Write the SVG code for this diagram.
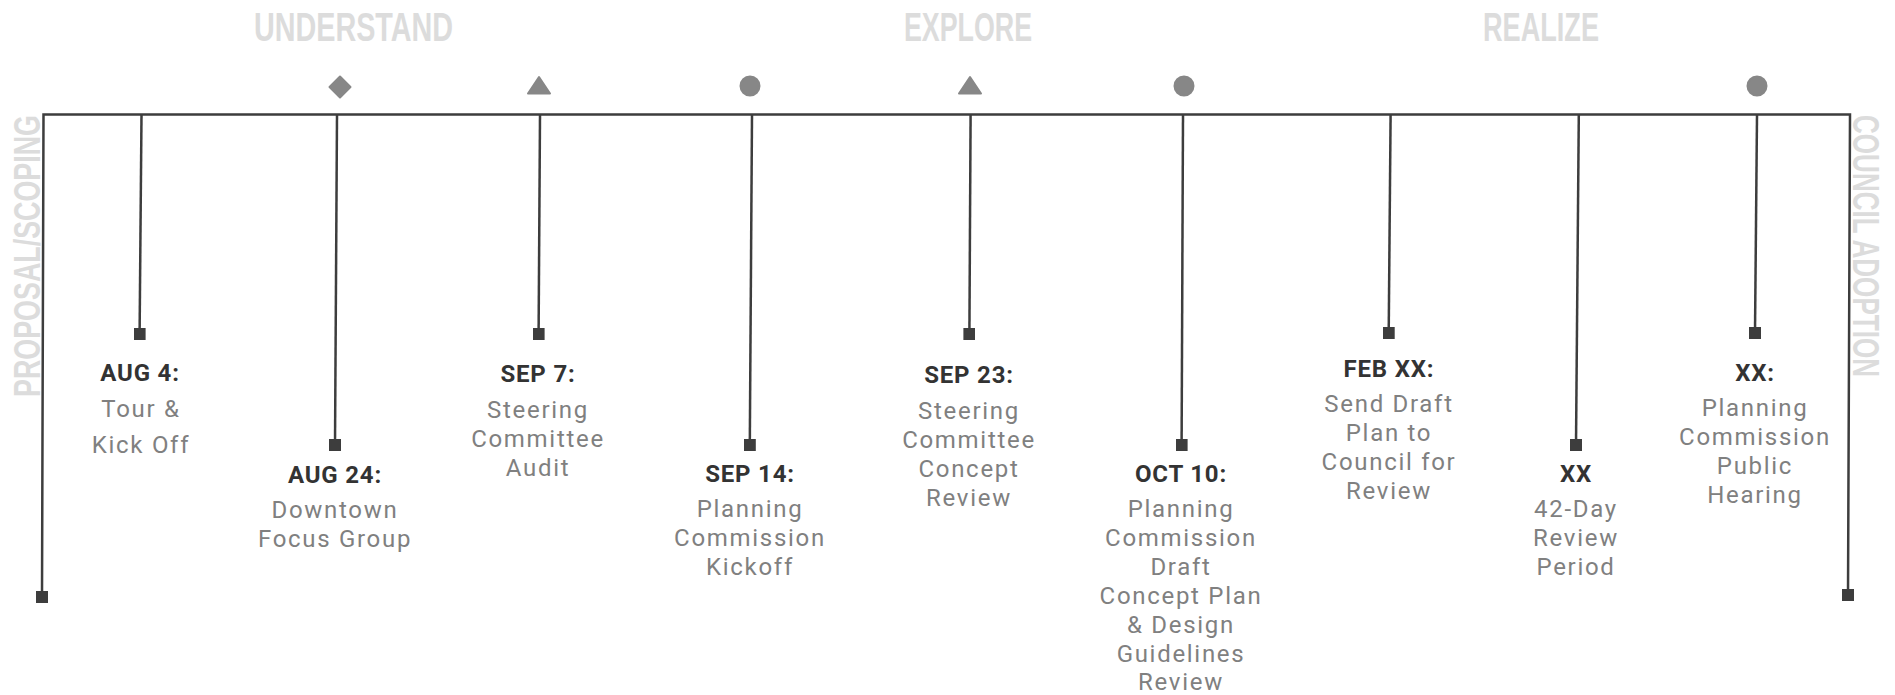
<svg xmlns="http://www.w3.org/2000/svg" width="1895" height="695" viewBox="0 0 1895 695">
<style>
.phase{font-family:"Liberation Sans",Arial,sans-serif;font-weight:bold;font-size:40px;fill:#dcdcdc}
.side{font-family:"Liberation Sans",Arial,sans-serif;font-weight:bold;font-size:37px;fill:#dcdcdc}
.date{font-family:Roboto,"Liberation Sans",sans-serif;font-weight:bold;font-size:24px;fill:#333333;text-anchor:middle;letter-spacing:0.8px}
.desc{font-family:Roboto,"Liberation Sans",sans-serif;font-size:24px;fill:#808080;text-anchor:middle;letter-spacing:1.7px}
.mk{fill:#878787;stroke:#878787;stroke-width:2;stroke-linejoin:round}
.ln{fill:none;stroke:#3d3d3d;stroke-width:2.5}
</style>
<defs>
<marker id="sq" markerUnits="userSpaceOnUse" markerWidth="12" markerHeight="12" refX="5.5" refY="5.5" viewBox="0 0 11 11">
<rect x="0" y="0" width="11" height="11" fill="#3d3d3d"/>
</marker>
</defs>

<g id="phases">
<text class="phase" x="254" y="41" textLength="199" lengthAdjust="spacingAndGlyphs">UNDERSTAND</text>
<text class="phase" x="904" y="41" textLength="128" lengthAdjust="spacingAndGlyphs">EXPLORE</text>
<text class="phase" x="1483" y="41" textLength="116" lengthAdjust="spacingAndGlyphs">REALIZE</text>
<text class="side" x="40" y="397" transform="rotate(-90 40 397)" textLength="282" lengthAdjust="spacingAndGlyphs">PROPOSAL/SCOPING</text>
<text class="side" x="1853" y="115" transform="rotate(90 1853 115)" textLength="262" lengthAdjust="spacingAndGlyphs">COUNCIL ADOPTION</text>
</g>

<g id="connectors">
<path class="ln" d="M42,597 L43.5,114.5 L1850,114.5 L1848,595" marker-start="url(#sq)" marker-end="url(#sq)"/>
<path class="ln" d="M141.5,115 L139.6,334" marker-end="url(#sq)"/>
<path class="ln" d="M337,115 L335,445" marker-end="url(#sq)"/>
<path class="ln" d="M540,115 L538.6,334" marker-end="url(#sq)"/>
<path class="ln" d="M752,115 L749.8,445" marker-end="url(#sq)"/>
<path class="ln" d="M970.6,115 L969.4,334" marker-end="url(#sq)"/>
<path class="ln" d="M1183,115 L1181.6,445" marker-end="url(#sq)"/>
<path class="ln" d="M1390.6,115 L1388.7,333" marker-end="url(#sq)"/>
<path class="ln" d="M1578.8,115 L1576,445" marker-end="url(#sq)"/>
<path class="ln" d="M1757,115 L1755,333" marker-end="url(#sq)"/>
</g>

<g id="node-aug4">
<text class="date" x="140" y="381">AUG 4:</text>
<text class="desc" x="141" y="417">Tour &amp;</text>
<text class="desc" x="141" y="453">Kick Off</text>
</g>

<g id="node-aug24">
<path class="mk" d="M340,76.5 L350.5,87 L340,97.5 L329.5,87 Z"/>
<text class="date" x="335" y="483">AUG 24:</text>
<text class="desc" x="335" y="518">Downtown</text>
<text class="desc" x="335" y="547">Focus Group</text>
</g>

<g id="node-sep7">
<path class="mk" d="M539,77 L550,93.5 L528,93.5 Z"/>
<text class="date" x="538" y="382">SEP 7:</text>
<text class="desc" x="538" y="418">Steering</text>
<text class="desc" x="538" y="447">Committee</text>
<text class="desc" x="538" y="476">Audit</text>
</g>

<g id="node-sep14">
<circle class="mk" cx="750" cy="86" r="9.5"/>
<text class="date" x="750" y="482">SEP 14:</text>
<text class="desc" x="750" y="517">Planning</text>
<text class="desc" x="750" y="546">Commission</text>
<text class="desc" x="750" y="575">Kickoff</text>
</g>

<g id="node-sep23">
<path class="mk" d="M970,77 L981,93.5 L959,93.5 Z"/>
<text class="date" x="969" y="383">SEP 23:</text>
<text class="desc" x="969" y="419">Steering</text>
<text class="desc" x="969" y="448">Committee</text>
<text class="desc" x="969" y="477">Concept</text>
<text class="desc" x="969" y="506">Review</text>
</g>

<g id="node-oct10">
<circle class="mk" cx="1184" cy="86" r="9.5"/>
<text class="date" x="1181" y="482">OCT 10:</text>
<text class="desc" x="1181" y="517">Planning</text>
<text class="desc" x="1181" y="546">Commission</text>
<text class="desc" x="1181" y="575">Draft</text>
<text class="desc" x="1181" y="604">Concept Plan</text>
<text class="desc" x="1181" y="633">&amp; Design</text>
<text class="desc" x="1181" y="662">Guidelines</text>
<text class="desc" x="1181" y="690">Review</text>
</g>

<g id="node-febxx">
<text class="date" x="1389" y="377">FEB XX:</text>
<text class="desc" x="1389" y="412">Send Draft</text>
<text class="desc" x="1389" y="441">Plan to</text>
<text class="desc" x="1389" y="470">Council for</text>
<text class="desc" x="1389" y="499">Review</text>
</g>

<g id="node-xx-review">
<text class="date" x="1576" y="482">XX</text>
<text class="desc" x="1576" y="517">42-Day</text>
<text class="desc" x="1576" y="546">Review</text>
<text class="desc" x="1576" y="575">Period</text>
</g>

<g id="node-xx-hearing">
<circle class="mk" cx="1757" cy="86" r="9.5"/>
<text class="date" x="1755" y="381">XX:</text>
<text class="desc" x="1755" y="416">Planning</text>
<text class="desc" x="1755" y="445">Commission</text>
<text class="desc" x="1755" y="474">Public</text>
<text class="desc" x="1755" y="503">Hearing</text>
</g>
</svg>
